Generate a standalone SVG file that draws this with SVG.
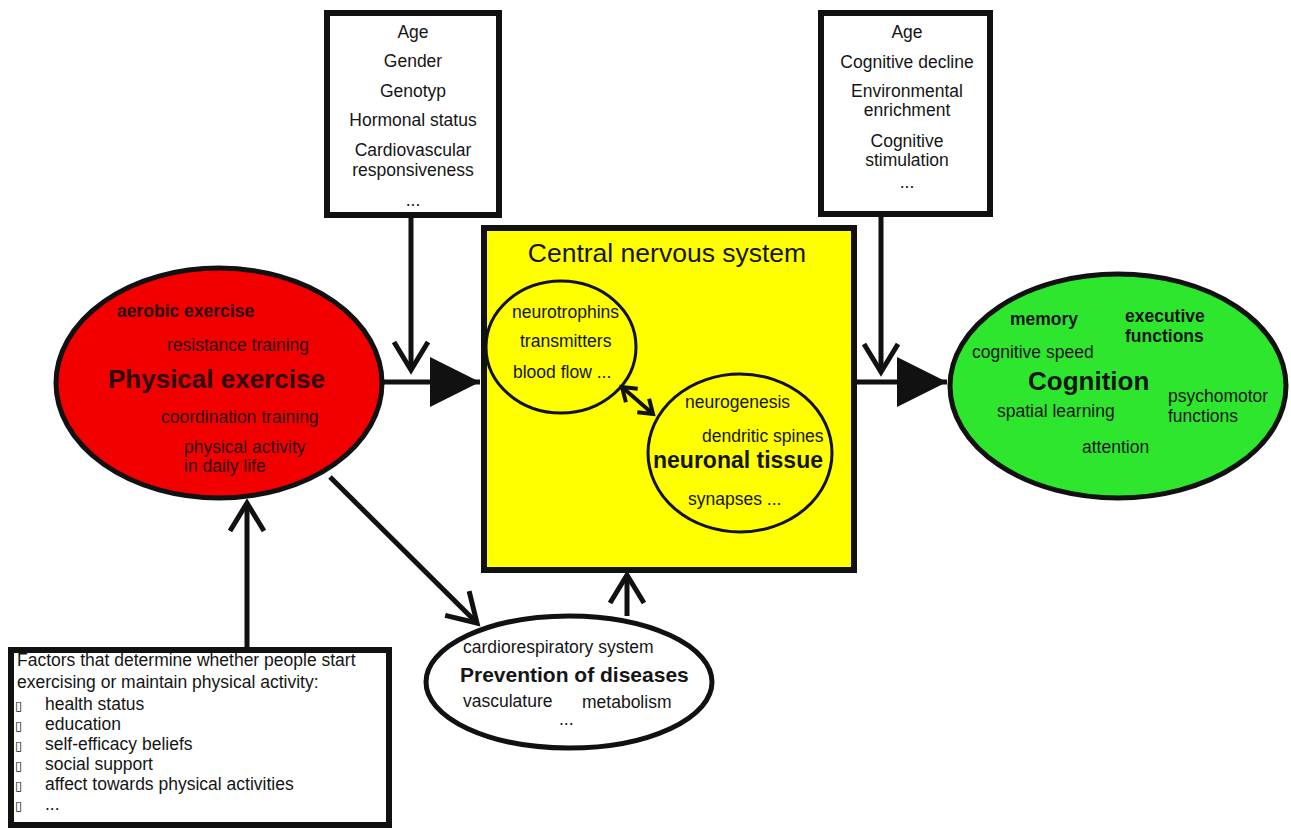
<svg xmlns="http://www.w3.org/2000/svg" width="1291" height="828" viewBox="0 0 1291 828">
<style>
text{font-family:"Liberation Sans",Arial,sans-serif;font-size:17.5px;fill:#151515}
.c{text-anchor:middle}
.b{font-weight:bold}
.red text{fill:#2a0c0c}
.box{fill:#fff;stroke:#111;stroke-width:6}
.con line{stroke:#111;stroke-width:5;fill:none}
</style>
<defs>
<marker id="chev" markerUnits="userSpaceOnUse" markerWidth="80" markerHeight="80" refX="0" refY="0" orient="auto" overflow="visible">
<path d="M-28,-17 L0,0 L-28,17" fill="none" stroke="#111" stroke-width="5" stroke-linejoin="miter"/>
</marker>
<marker id="tri" markerUnits="userSpaceOnUse" markerWidth="80" markerHeight="80" refX="0" refY="0" orient="auto" overflow="visible">
<path d="M-50,-25 L0,0 L-50,25 Z" fill="#111"/>
</marker>
<marker id="small" markerUnits="userSpaceOnUse" markerWidth="40" markerHeight="40" refX="0" refY="0" orient="auto-start-reverse" overflow="visible">
<path d="M-13,-9 L0,0 L-13,9" fill="none" stroke="#111" stroke-width="4"/>
</marker>
</defs>
<rect width="1291" height="828" fill="#fff"/>

<g id="factors-top-left">
<rect class="box" x="327" y="13" width="172" height="202"/>
<text class="c" x="413" y="38">Age</text>
<text class="c" x="413" y="67">Gender</text>
<text class="c" x="413" y="97">Genotyp</text>
<text class="c" x="413" y="126">Hormonal status</text>
<text class="c" x="413" y="156">Cardiovascular</text>
<text class="c" x="413" y="176">responsiveness</text>
<text class="c" x="413" y="206">...</text>
</g>

<g id="factors-top-right">
<rect class="box" x="821" y="13" width="169" height="201"/>
<text class="c" x="907" y="38">Age</text>
<text class="c" x="907" y="68">Cognitive decline</text>
<text class="c" x="907" y="97">Environmental</text>
<text class="c" x="907" y="116">enrichment</text>
<text class="c" x="907" y="147">Cognitive</text>
<text class="c" x="907" y="166">stimulation</text>
<text class="c" x="907" y="188">...</text>
</g>

<g id="physical-exercise" class="red">
<ellipse cx="219" cy="383" rx="163" ry="115" fill="#f20000" stroke="#111" stroke-width="5"/>
<text class="b" x="117" y="317">aerobic exercise</text>
<text x="167" y="351">resistance training</text>
<text class="b" x="108" y="388" style="font-size:26px">Physical exercise</text>
<text x="161" y="423">coordination training</text>
<text x="184" y="453">physical activity</text>
<text x="184" y="472">in daily life</text>
</g>

<g id="cns">
<rect x="484" y="228" width="370" height="342" fill="#ffff00" stroke="#111" stroke-width="6"/>
<text class="c" x="667" y="262" style="font-size:26.5px">Central nervous system</text>
</g>

<g id="cns-messengers">
<ellipse cx="561" cy="347" rx="75" ry="66" fill="none" stroke="#111" stroke-width="3"/>
<text x="512" y="318">neurotrophins</text>
<text x="520" y="347">transmitters</text>
<text x="513" y="378">blood flow ...</text>
</g>

<g id="neuronal-tissue">
<ellipse cx="740" cy="453" rx="92" ry="79" fill="none" stroke="#111" stroke-width="3"/>
<text x="685" y="408">neurogenesis</text>
<text x="702" y="442">dendritic spines</text>
<text class="b" x="653" y="468" style="font-size:23px">neuronal tissue</text>
<text x="688" y="505">synapses ...</text>
</g>

<g id="cognition">
<ellipse cx="1118" cy="386" rx="168" ry="112" fill="#2ee62e" stroke="#111" stroke-width="5"/>
<text class="b" x="1010" y="325">memory</text>
<text class="b" x="1125" y="322">executive</text>
<text class="b" x="1125" y="342">functions</text>
<text x="972" y="358">cognitive speed</text>
<text class="b" x="1028" y="390" style="font-size:26px">Cognition</text>
<text x="997" y="417">spatial learning</text>
<text x="1168" y="402">psychomotor</text>
<text x="1168" y="422">functions</text>
<text x="1082" y="453">attention</text>
</g>

<g id="prevention">
<ellipse cx="569" cy="682" rx="143" ry="66" fill="#fff" stroke="#111" stroke-width="5"/>
<text x="463" y="653">cardiorespiratory system</text>
<text class="b" x="460" y="682" style="font-size:21px">Prevention of diseases</text>
<text x="463" y="707">vasculature</text>
<text x="582" y="708">metabolism</text>
<text x="559" y="725">...</text>
</g>

<g id="motivation-factors">
<rect class="box" x="11" y="650" width="378" height="175"/>
<text x="17" y="666">Factors that determine whether people start</text>
<text x="17" y="688">exercising or maintain physical activity:</text>
<text x="15" y="710" style="font-family:'DejaVu Sans',sans-serif;font-size:13px">▯</text>
<text x="45" y="710">health status</text>
<text x="15" y="730" style="font-family:'DejaVu Sans',sans-serif;font-size:13px">▯</text>
<text x="45" y="730">education</text>
<text x="15" y="750" style="font-family:'DejaVu Sans',sans-serif;font-size:13px">▯</text>
<text x="45" y="750">self-efficacy beliefs</text>
<text x="15" y="770" style="font-family:'DejaVu Sans',sans-serif;font-size:13px">▯</text>
<text x="45" y="770">social support</text>
<text x="15" y="790" style="font-family:'DejaVu Sans',sans-serif;font-size:13px">▯</text>
<text x="45" y="790">affect towards physical activities</text>
<text x="15" y="810" style="font-family:'DejaVu Sans',sans-serif;font-size:13px">▯</text>
<text x="45" y="810">...</text>
</g>

<g id="connectors" class="con">
<line x1="411" y1="216" x2="411" y2="370" marker-end="url(#chev)"/>
<line x1="881" y1="215" x2="881" y2="372" marker-end="url(#chev)"/>
<line x1="383" y1="382" x2="480" y2="382" marker-end="url(#tri)"/>
<line x1="856" y1="382" x2="947" y2="382" marker-end="url(#tri)"/>
<line x1="247" y1="648" x2="247" y2="503" marker-end="url(#chev)"/>
<line x1="330" y1="477" x2="477" y2="623" marker-end="url(#chev)"/>
<line x1="627" y1="616" x2="627" y2="575" marker-end="url(#chev)"/>
<line x1="622" y1="387" x2="653" y2="414" style="stroke-width:4" marker-start="url(#small)" marker-end="url(#small)"/>
</g>
</svg>
